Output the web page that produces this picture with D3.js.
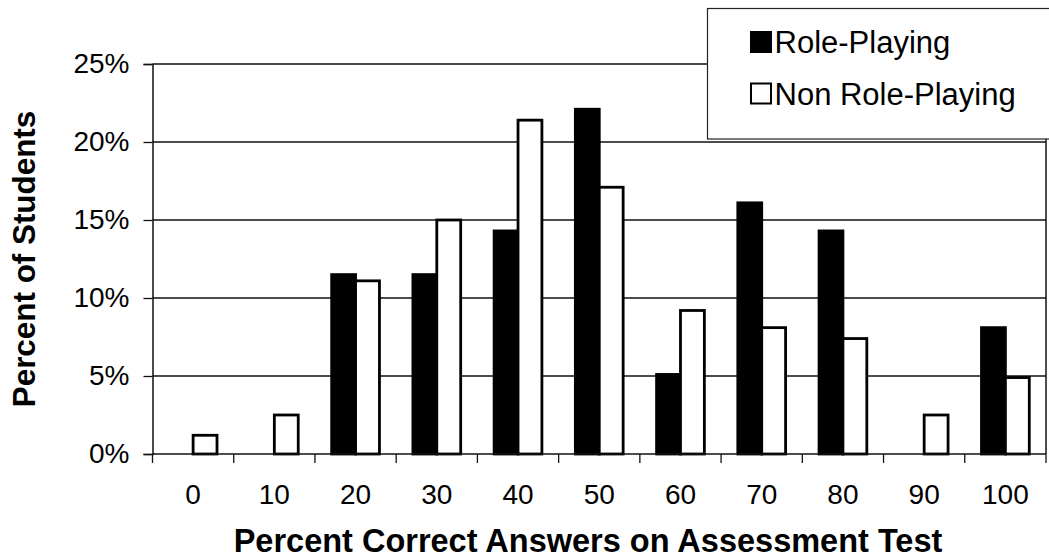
<!DOCTYPE html>
<html>
<head>
<script src="https://cdnjs.cloudflare.com/ajax/libs/d3/7.8.5/d3.min.js"></script>
<style>
  body { margin: 0; background: #fff; }
  svg { display: block; font-family: "Liberation Sans", Arial, sans-serif; }
</style>
</head>
<body>
<svg id="chart" width="1049" height="558"></svg>
<script>
// values (percent of students)
const categories = ["0", "10", "20", "30", "40", "50", "60", "70", "80", "90", "100"];
const rolePlaying = [0, 0, 11.5, 11.5, 14.3, 22.1, 5.1, 16.1, 14.3, 0, 8.1];
const nonRolePlaying = [1.2, 2.5, 11.1, 15.0, 21.4, 17.1, 9.2, 8.1, 7.4, 2.5, 4.9];
const seriesNames = ["Role-Playing", "Non Role-Playing"];
const seriesFill = ["#000", "#fff"];
const yTicks = [0, 5, 10, 15, 20, 25];

const svg = d3.select("#chart");
const plotLeft = 152.5, plotRight = 1046, plotTop = 64, plotBottom = 454;

const x0 = d3.scaleBand().domain(categories).range([plotLeft, plotRight]);
const x1 = d3.scaleBand().domain(seriesNames).range([0, x0.bandwidth()]).paddingOuter(0.7);
const y = d3.scaleLinear().domain([0, 25]).range([plotBottom, plotTop]);

// gridlines
svg.append("g").selectAll("line")
  .data(yTicks.filter(d => d > 0 && d < 25))
  .join("line")
  .attr("x1", plotLeft).attr("x2", plotRight)
  .attr("y1", d => y(d)).attr("y2", d => y(d))
  .attr("stroke", "#111").attr("stroke-width", 1.3);

// plot frame (top + right)
svg.append("path")
  .attr("d", `M${plotLeft},${y(25)}H${plotRight}V${plotBottom}`)
  .attr("fill", "none").attr("stroke", "#111").attr("stroke-width", 1.5);

// bars
const rows = categories.map((c, i) => ({ c, vals: [rolePlaying[i], nonRolePlaying[i]] }));
svg.append("g").selectAll("g")
  .data(rows)
  .join("g")
  .attr("transform", d => `translate(${x0(d.c)},0)`)
  .selectAll("rect")
  .data(d => d.vals.map((v, k) => ({ v, k })).filter(e => e.v > 0))
  .join("rect")
  .attr("x", d => x1(seriesNames[d.k]))
  .attr("width", x1.bandwidth())
  .attr("y", d => y(d.v))
  .attr("height", d => y(0) - y(d.v))
  .attr("fill", d => seriesFill[d.k])
  .attr("stroke", "#000").attr("stroke-width", 2.8);

// y axis
const yAxis = svg.append("g")
  .attr("transform", `translate(${plotLeft},0)`)
  .call(d3.axisLeft(y).tickValues(yTicks).tickFormat(d => d + "%").tickSize(9).tickPadding(14));
yAxis.select(".domain").attr("stroke", "#111").attr("stroke-width", 1.5);
yAxis.selectAll(".tick line").attr("stroke", "#111").attr("stroke-width", 1.3);
yAxis.selectAll("text").attr("font-size", 28).attr("fill", "#000")
  .attr("font-family", "'Liberation Sans', Arial, sans-serif");

// x axis: labels centred, ticks at category edges
const xAxis = svg.append("g")
  .attr("transform", `translate(0,${plotBottom})`)
  .call(d3.axisBottom(x0).tickSize(0).tickPadding(30));
xAxis.select(".domain").remove();
xAxis.selectAll("text").attr("font-size", 28).attr("fill", "#000")
  .attr("font-family", "'Liberation Sans', Arial, sans-serif");
svg.append("line")
  .attr("x1", plotLeft).attr("x2", plotRight).attr("y1", plotBottom).attr("y2", plotBottom)
  .attr("stroke", "#111").attr("stroke-width", 1.5);
svg.append("g").selectAll("line")
  .data(categories.map(c => x0(c)).concat([plotRight]))
  .join("line")
  .attr("x1", d => d).attr("x2", d => d)
  .attr("y1", plotBottom).attr("y2", plotBottom + 9)
  .attr("stroke", "#111").attr("stroke-width", 1.3);

// axis titles
svg.append("text")
  .attr("x", 588).attr("y", 552)
  .attr("text-anchor", "middle")
  .attr("font-size", 32.5).attr("font-weight", "bold")
  .text("Percent Correct Answers on Assessment Test");
svg.append("text")
  .attr("transform", `translate(35,${(plotTop + plotBottom) / 2}) rotate(-90)`)
  .attr("text-anchor", "middle")
  .attr("font-size", 31.4).attr("font-weight", "bold")
  .text("Percent of Students");

// legend
const legend = svg.append("g");
legend.append("rect")
  .attr("x", 707.5).attr("y", 8.5).attr("width", 350).attr("height", 130.5)
  .attr("fill", "#fff").attr("stroke", "#222").attr("stroke-width", 1.2);
const items = legend.selectAll("g.item")
  .data(seriesNames)
  .join("g")
  .attr("class", "item")
  .attr("transform", (d, i) => `translate(750,${53 + i * 51.5})`);
items.append("rect")
  .attr("x", 1).attr("y", -21).attr("width", 20).attr("height", 20)
  .attr("fill", (d, i) => seriesFill[i])
  .attr("stroke", "#000").attr("stroke-width", 2);
items.append("text")
  .attr("x", 24.5).attr("y", 0)
  .attr("font-size", 31)
  .text(d => d);
</script>
</body>
</html>
